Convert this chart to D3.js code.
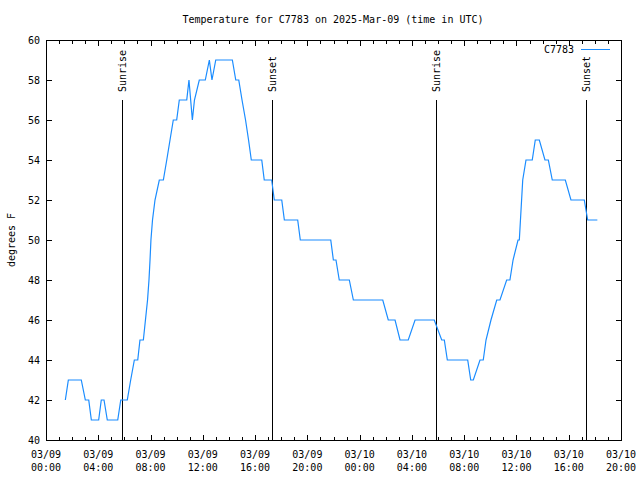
<!DOCTYPE html>
<html><head><meta charset="utf-8">
<script src="https://cdn.jsdelivr.net/npm/d3@7"></script>
<style>body{margin:0;background:#fff}svg{display:block}text{font-family:"DejaVu Sans Mono",monospace;font-size:10px;fill:#000}</style>
</head><body><svg id="c" width="640" height="480"></svg>
<script>
// hours since 2025-03-09 00:00 UTC
const hours = [1.48,1.71,2.70,3.01,3.27,3.47,4.03,4.23,4.44,4.69,5.49,5.72,6.22,6.48,6.76,7.02,7.19,7.45,7.61,7.77,7.88,7.96,8.03,8.15,8.34,8.67,8.98,9.24,9.49,9.74,10.00,10.20,10.77,10.94,11.20,11.36,11.73,12.19,12.50,12.70,12.99,14.26,14.52,14.75,15.00,15.27,15.50,15.71,16.51,16.70,17.27,17.47,18.04,18.24,19.26,19.46,21.79,21.99,22.19,22.44,23.21,23.52,25.77,26.19,26.71,27.09,27.72,28.24,29.71,30.28,30.48,30.71,32.27,32.50,32.70,33.21,33.46,33.67,34.05,34.49,34.74,35.25,35.50,35.74,36.12,36.22,36.48,36.73,37.21,37.44,37.75,38.18,38.44,38.74,39.74,40.17,41.19,41.45,42.19];
const temps = [42,43,43,42,42,41,41,42,42,41,41,42,42,43,44,44,45,45,46,47,48,49,50,51,52,53,53,54,55,56,56,57,57,58,56,57,58,58,59,58,59,59,58,58,57,56,55,54,54,53,53,52,52,51,51,50,50,49,49,48,48,47,47,46,46,45,45,46,46,45,45,44,44,43,43,44,44,45,46,47,47,48,48,49,50,50,53,54,54,55,55,54,54,53,53,52,52,51,51];
const eventLabels = ["Sunrise","Sunset","Sunrise","Sunset"];
const eventHours = [5.84,17.29,29.84,41.35];
const yTicks = [40,42,44,46,48,50,52,54,56,58,60];
const seriesName = "C7783";
const title = "Temperature for C7783 on 2025-Mar-09 (time in UTC)";
const yLabel = "degrees F";

const base = Date.UTC(2025,2,9);
const toDate = h => new Date(base + h*3600000);
const L=46,R=621,T=40,B=440;
const svg = d3.select("#c");
const x = d3.scaleUtc().domain([toDate(0),toDate(44)]).range([L,R]);
const y = d3.scaleLinear().domain([40,60]).range([B,T]);
const fmtD = d3.utcFormat("%m/%d"), fmtT = d3.utcFormat("%H:%M");
const major = d3.utcHour.every(4).range(toDate(0), toDate(44.01));
const minor = d3.utcHour.every(1).range(toDate(0), toDate(44.01));

const g = svg.append("g").attr("shape-rendering","crispEdges").attr("stroke","#000").attr("stroke-width",1);
// frame
g.append("rect").attr("x",L+0.5).attr("y",T+0.5).attr("width",R-L).attr("height",B-T).attr("fill","none");
// x ticks
minor.forEach(d=>{
  const isMaj = major.some(m=>+m===+d);
  const len = isMaj?5:3, px = Math.round(x(d))+0.5;
  g.append("line").attr("x1",px).attr("x2",px).attr("y1",B).attr("y2",B-len);
  g.append("line").attr("x1",px).attr("x2",px).attr("y1",T+1).attr("y2",T+1+len);
});
yTicks.forEach(v=>{
  const py = Math.round(y(v))+0.5;
  g.append("line").attr("x1",L+1).attr("x2",L+1+5).attr("y1",py).attr("y2",py);
  g.append("line").attr("x1",R).attr("x2",R-5).attr("y1",py).attr("y2",py);
  svg.append("text").attr("x",40).attr("y",py).attr("dy","0.35em").attr("text-anchor","end").text(v);
});
major.forEach(d=>{
  const t = svg.append("text").attr("text-anchor","middle");
  t.append("tspan").attr("x",x(d)).attr("y",458).text(fmtD(d));
  t.append("tspan").attr("x",x(d)).attr("y",471).text(fmtT(d));
});
// events
eventHours.forEach((h,i)=>{
  const px = Math.round(x(toDate(h)))+0.5;
  g.append("line").attr("x1",px).attr("x2",px).attr("y1",y(57)).attr("y2",B);
  svg.append("text").attr("transform",`translate(${px},92) rotate(-90)`).attr("dy","0.35em").attr("text-anchor","start").text(eventLabels[i]);
});
// data line
const line = d3.line().x((d,i)=>x(toDate(hours[i]))).y((d,i)=>y(temps[i]));
svg.append("path").datum(temps).attr("d",line).attr("fill","none").attr("stroke","#1a8cff").attr("stroke-width",1.2);
// legend
svg.append("text").attr("x",574).attr("y",49).attr("dy","0.35em").attr("text-anchor","end").text(seriesName);
svg.append("line").attr("x1",581).attr("x2",610).attr("y1",49.5).attr("y2",49.5).attr("stroke","#1a8cff").attr("stroke-width",1);
// titles
svg.append("text").attr("x",333).attr("y",23).attr("text-anchor","middle").text(title);
svg.append("text").attr("transform","translate(11,240) rotate(-90)").attr("dy","0.35em").attr("text-anchor","middle").text(yLabel);
</script></body></html>
